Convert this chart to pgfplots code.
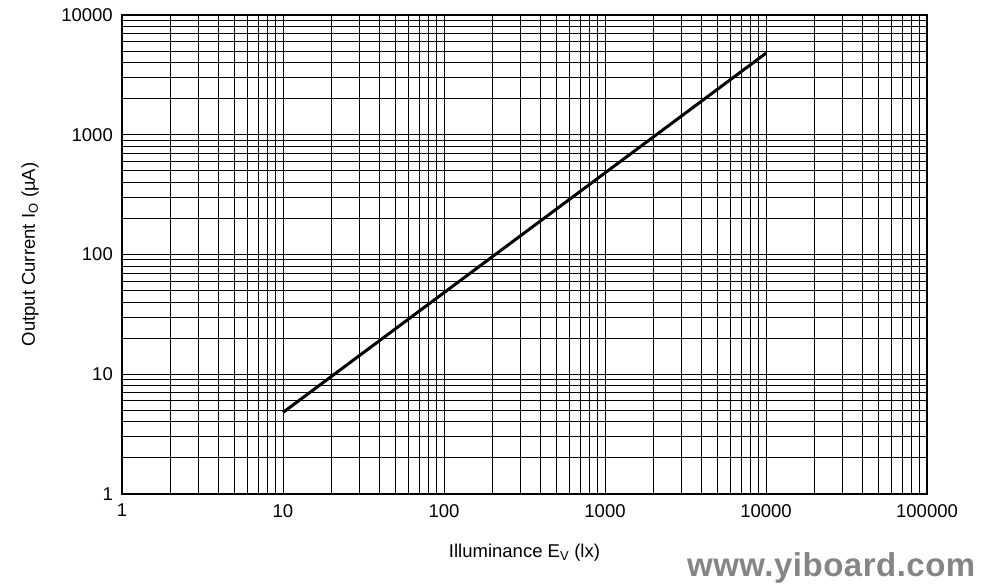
\documentclass[border=0pt]{standalone}
\usepackage{fontspec}
\setmainfont{Liberation Sans}
\usepackage{pgfplots}
\pgfplotsset{compat=1.18}

\begin{document}
\begin{tikzpicture}
  \begin{loglogaxis}[
    scale only axis,
    width = 805pt,
    height = 479pt,
    xmin = 1, xmax = 100000,
    ymin = 1, ymax = 10000,
    xtick = {1,10,100,1000,10000,100000},
    xticklabels = {1,10,100,1000,10000,100000},
    ytick = {1,10,100,1000,10000},
    yticklabels = {1,10,100,1000,10000},
    grid = both,
    major grid style = {black, line width=1pt},
    minor grid style = {black, line width=1pt},
    axis line style = {black, line width=1.1pt},
    major tick length = 0pt,
    minor tick length = 0pt,
    font = \fontsize{18.5}{22}\selectfont,
    xticklabel style = {anchor=north, inner sep=0pt, yshift=-10pt},
    yticklabel style = {anchor=east, inner sep=0pt, xshift=-9pt},
    xlabel = {Illuminance E\textsubscript{V} (lx)},
    ylabel = {Output Current I\textsubscript{O} (µA)},
    xlabel style = {at={([yshift=-59pt]axis description cs:0.5,0)}, anchor=center},
    ylabel style = {at={([xshift=-92pt]axis description cs:0,0.5)}, anchor=center, rotate=0},
    clip = false,
  ]
    \addplot[black, line width=3pt, line cap=butt] coordinates { (10,4.8) (10000,4800) };
    % watermark
    \node[font=\fontsize{33}{36}\selectfont\bfseries\addfontfeature{LetterSpace=1.5}, text=black!48, anchor=center, inner sep=0pt]
      at ([yshift=-74pt]rel axis cs:0.881,0) {www.yiboard.com};
  \end{loglogaxis}
  \path (-122pt,-93pt) rectangle (862pt,494pt);
\end{tikzpicture}
\end{document}
